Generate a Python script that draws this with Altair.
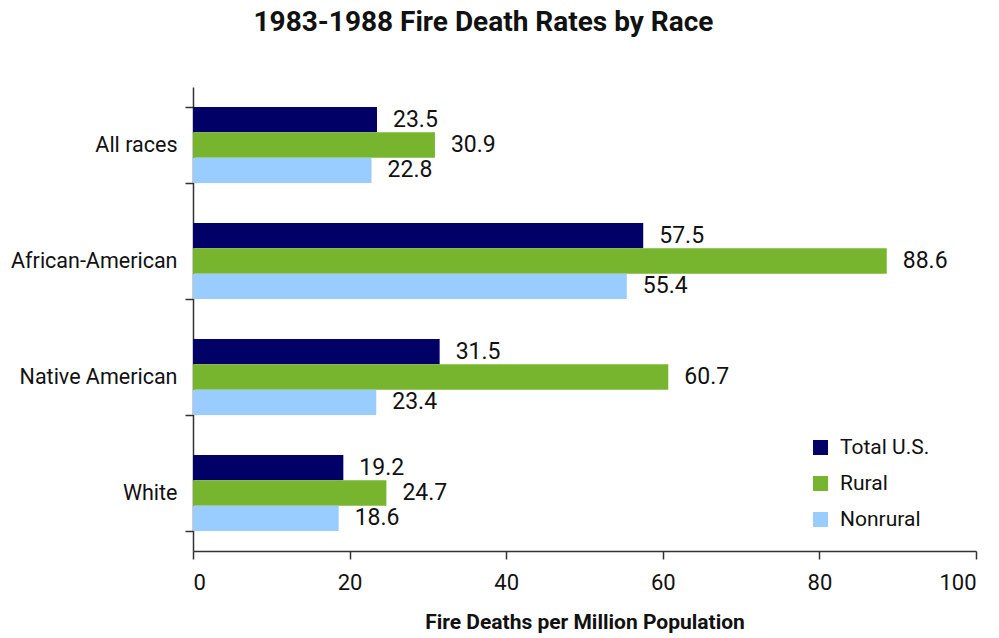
import altair as alt
import pandas as pd

races = ["All races", "African-American", "Native American", "White"]
series = ["Total U.S.", "Rural", "Nonrural"]
total_us = [23.5, 57.5, 31.5, 19.2]
rural = [30.9, 88.6, 60.7, 24.7]
nonrural = [22.8, 55.4, 23.4, 18.6]
colors = ["#000066", "#77B52F", "#99CCFF"]

rows = []
for i, r in enumerate(races):
    for s, vals in zip(series, [total_us, rural, nonrural]):
        rows.append({"race": r, "series": s, "value": vals[i]})
df = pd.DataFrame(rows)

FONT = "Roboto"

y = alt.Y("race:N", sort=races, title=None,
          scale=alt.Scale(paddingInner=0.345, paddingOuter=0.1725),
          axis=alt.Axis(tickBand="extent", tickSize=8, labelPadding=8,
                        labelFontSize=21.5, labelColor="#111", labelFont=FONT,
                        domainColor="#333", tickColor="#333", domainWidth=1.5,
                        tickWidth=1.5))
yoff = alt.YOffset("series:N", sort=series, scale=alt.Scale(paddingInner=0, paddingOuter=0))
x = alt.X("value:Q", title="Fire Deaths per Million Population",
          scale=alt.Scale(domain=[0, 100], nice=False),
          axis=alt.Axis(values=[0, 20, 40, 60, 80, 100], grid=False, tickSize=8,
                        labelPadding=13, labelFontSize=22, labelColor="#111",
                        labelFont=FONT, titleFont=FONT, titleFontSize=21,
                        titleFontWeight="bold", titlePadding=18, titleColor="#111",
                        domainColor="#333", tickColor="#333", domainWidth=1.5,
                        tickWidth=1.5))

bars = alt.Chart(df).mark_bar().encode(
    x=x, y=y, yOffset=yoff,
    color=alt.Color("series:N", sort=series,
                    scale=alt.Scale(domain=series, range=colors),
                    legend=alt.Legend(title=None, orient="none", legendX=617, legendY=350,
                                      symbolType="square", symbolSize=225,
                                      symbolStrokeWidth=0, labelFontSize=21,
                                      labelFont=FONT, labelColor="#111",
                                      rowPadding=14, labelOffset=9)),
)

labels = alt.Chart(df).mark_text(align="left", baseline="middle", dx=16,
                                 fontSize=23, font=FONT, color="#111").encode(
    x="value:Q", y=alt.Y("race:N", sort=races), yOffset=yoff,
    text=alt.Text("value:Q", format=".1f"),
)

chart = (bars + labels).properties(
    width=783, height=464,
    title=alt.TitleParams("1983-1988 Fire Death Rates by Race", fontSize=28,
                          font=FONT, fontWeight="bold", color="#111",
                          anchor="middle", dx=-101, offset=39),
    autosize=alt.AutoSizeParams(type="none"),
    padding={"left": 185, "top": 79, "right": 15, "bottom": 86},
).configure_view(stroke=None)

chart.save("out.html", embed_options={"renderer": "svg", "actions": False})
